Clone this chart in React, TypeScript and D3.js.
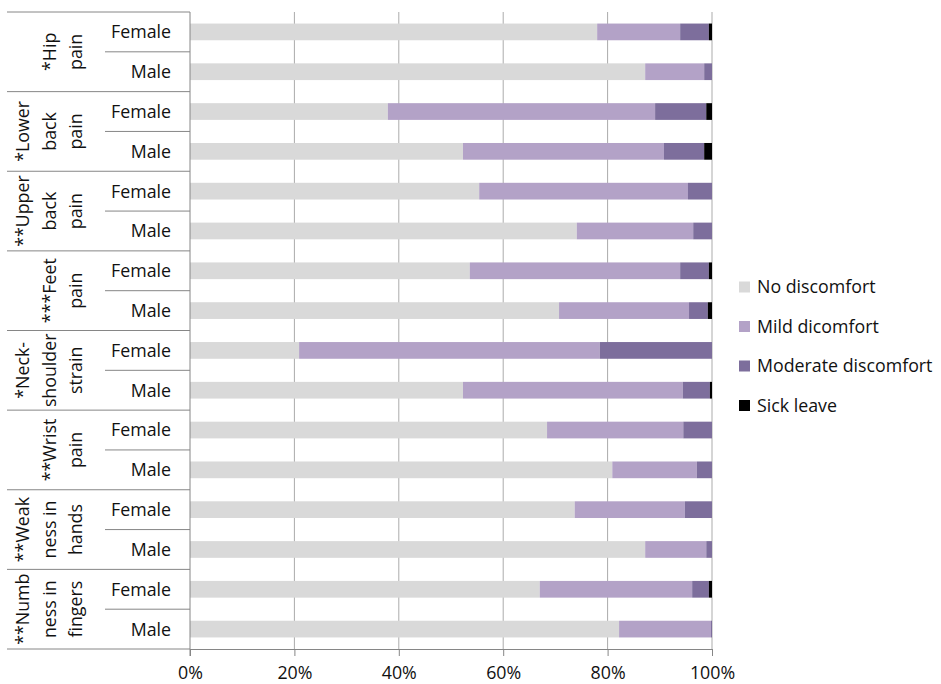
import * as d3 from 'd3';
import React, { useRef, useEffect } from 'react';

// groups, top to bottom; each label is broken into lines like the original
const groupLines = [
    ['*Hip', 'pain'],
    ['*Lower', 'back', 'pain'],
    ['**Upper', 'back', 'pain'],
    ['***Feet', 'pain'],
    ['*Neck-', 'shoulder', 'strain'],
    ['**Wrist', 'pain'],
    ['**Weak', 'ness in', 'hands'],
    ['**Numb', 'ness in', 'fingers'],
];
const sexes = ['Female', 'Male'];

const series = ['No discomfort', 'Mild dicomfort', 'Moderate discomfort', 'Sick leave'];
const colors = ['#d9d9d9', '#b3a2c7', '#7d6e9c', '#000000'];

// percent of respondents, rows in order group x sex (Female, Male)
const noDiscomfort = [78.0, 87.2, 37.9, 52.3, 55.4, 74.1, 53.6, 70.7, 20.9, 52.3, 68.4, 80.9, 73.7, 87.2, 67.0, 82.2];
const mildDiscomfort = [15.9, 11.3, 51.2, 38.5, 40.0, 22.3, 40.3, 24.9, 57.6, 42.1, 26.1, 16.2, 21.1, 11.7, 29.2, 17.6];
const moderateDiscomfort = [5.5, 1.5, 9.8, 7.7, 4.6, 3.6, 5.5, 3.6, 21.5, 5.2, 5.5, 2.9, 5.2, 1.1, 3.2, 0.2];
const sickLeave = [0.6, 0, 1.1, 1.5, 0, 0, 0.6, 0.8, 0, 0.4, 0, 0, 0, 0, 0.6, 0];

const xTicks = [0, 0.2, 0.4, 0.6, 0.8, 1];

const FONT = '"Open Sans", sans-serif';
const FS = 17.8;
const TEXT = '#111';

const Chart = ({ width, height }) => {
    const svgRef = useRef();
    useEffect(() => {
        draw();
    }, []);

    const draw = () => {
        d3.select(svgRef.current).selectAll('*').remove();
        const svg = d3.select(svgRef.current);

        const rows = noDiscomfort.map((d, i) => ({
            id: i,
            group: Math.floor(i / 2),
            sex: sexes[i % 2],
            [series[0]]: d,
            [series[1]]: mildDiscomfort[i],
            [series[2]]: moderateDiscomfort[i],
            [series[3]]: sickLeave[i],
        }));

        const left = 190, right = 712, top = 12, bottom = 649;

        const xScale = d3.scaleLinear().domain([0, 1]).range([left, right]);
        const yScale = d3
            .scaleBand()
            .domain(rows.map((d) => d.id))
            .range([top, bottom])
            .paddingInner(0.58)
            .paddingOuter(0.29);
        const step = yScale.step();

        const stacked = d3.stack().keys(series)(rows.map((r) => {
            const total = series.reduce((s, k) => s + r[k], 0);
            const o = { id: r.id };
            series.forEach((k) => (o[k] = r[k] / total));
            return o;
        }));

        // vertical gridlines
        svg
            .append('g')
            .selectAll('line')
            .data(xTicks.slice(1))
            .enter()
            .append('line')
            .attr('x1', (d) => xScale(d))
            .attr('x2', (d) => xScale(d))
            .attr('y1', top)
            .attr('y2', bottom)
            .attr('stroke', '#ababab')
            .attr('stroke-width', 1);

        // bars
        svg
            .append('g')
            .selectAll('g')
            .data(stacked)
            .enter()
            .append('g')
            .attr('fill', (d, i) => colors[i])
            .selectAll('rect')
            .data((d) => d)
            .enter()
            .append('rect')
            .attr('x', (d) => xScale(d[0]))
            .attr('y', (d) => yScale(d.data.id))
            .attr('width', (d) => Math.max(0, xScale(d[1]) - xScale(d[0])))
            .attr('height', yScale.bandwidth());

        // x axis
        const xAxis = d3
            .axisBottom(xScale)
            .tickValues(xTicks)
            .tickFormat(d3.format('.0%'))
            .tickSizeInner(7)
            .tickSizeOuter(0)
            .tickPadding(10);
        const gx = svg.append('g').attr('transform', `translate(0, ${bottom})`).call(xAxis);
        gx.select('.domain').attr('stroke', '#868686');
        gx.selectAll('.tick line').attr('stroke', '#868686');
        gx.selectAll('.tick text')
            .attr('font-family', FONT)
            .attr('font-size', FS)
            .attr('fill', TEXT);

        // category axis line
        svg
            .append('line')
            .attr('x1', left)
            .attr('x2', left)
            .attr('y1', top)
            .attr('y2', bottom + 7)
            .attr('stroke', '#868686');

        // separators: group boundaries (long) and female/male (short)
        const groupEdges = d3.range(groupLines.length + 1).map((g) => top + g * 2 * step);
        svg
            .append('g')
            .selectAll('line')
            .data(groupEdges)
            .enter()
            .append('line')
            .attr('x1', 7)
            .attr('x2', left)
            .attr('y1', (d) => d)
            .attr('y2', (d) => d)
            .attr('stroke', '#868686');
        svg
            .append('g')
            .selectAll('line')
            .data(groupLines)
            .enter()
            .append('line')
            .attr('x1', 105)
            .attr('x2', left)
            .attr('y1', (d, g) => top + (g * 2 + 1) * step)
            .attr('y2', (d, g) => top + (g * 2 + 1) * step)
            .attr('stroke', '#868686');

        // sex labels
        svg
            .append('g')
            .selectAll('text')
            .data(rows)
            .enter()
            .append('text')
            .attr('x', 171)
            .attr('y', (d) => yScale(d.id) + yScale.bandwidth() / 2)
            .attr('dy', '0.36em')
            .attr('text-anchor', 'end')
            .attr('font-family', FONT)
            .attr('font-size', FS)
            .attr('fill', TEXT)
            .text((d) => d.sex);

        // rotated group labels, last line anchored at the right
        const lineGap = 26.5;
        const gl = svg
            .append('g')
            .selectAll('g')
            .data(groupLines)
            .enter()
            .append('g');
        gl.selectAll('text')
            .data((d) => d.map((t, i) => ({ t, i, n: d.length })))
            .enter()
            .append('text')
            .attr('transform', function (d) {
                const g = d3.select(this.parentNode).datum();
                const gi = groupLines.indexOf(g);
                const cy = top + (gi * 2 + 1) * step;
                const cx = 76 - (d.n - 1 - d.i) * lineGap;
                return `translate(${cx}, ${cy}) rotate(-90)`;
            })
            .attr('dy', '0.36em')
            .attr('text-anchor', 'middle')
            .attr('font-family', FONT)
            .attr('font-size', FS)
            .attr('fill', TEXT)
            .text((d) => d.t);

        // legend
        const legend = svg
            .append('g')
            .selectAll('g')
            .data(series)
            .enter()
            .append('g')
            .attr('transform', (d, i) => `translate(739, ${287 + i * 39.5})`);
        legend
            .append('rect')
            .attr('x', 0)
            .attr('y', -5.5)
            .attr('width', 11)
            .attr('height', 11)
            .attr('fill', (d, i) => colors[i]);
        legend
            .append('text')
            .attr('x', 18)
            .attr('dy', '0.36em')
            .attr('font-family', FONT)
            .attr('font-size', FS)
            .attr('fill', TEXT)
            .text((d) => d);
    };

    return (
        <svg
            ref={svgRef}
            width={width}
            height={height}
            style={{ position: 'absolute', left: 0, top: 0, background: '#fff' }}
        ></svg>
    );
};

export default function App() {
    return <Chart width={941} height={684} />;
}
